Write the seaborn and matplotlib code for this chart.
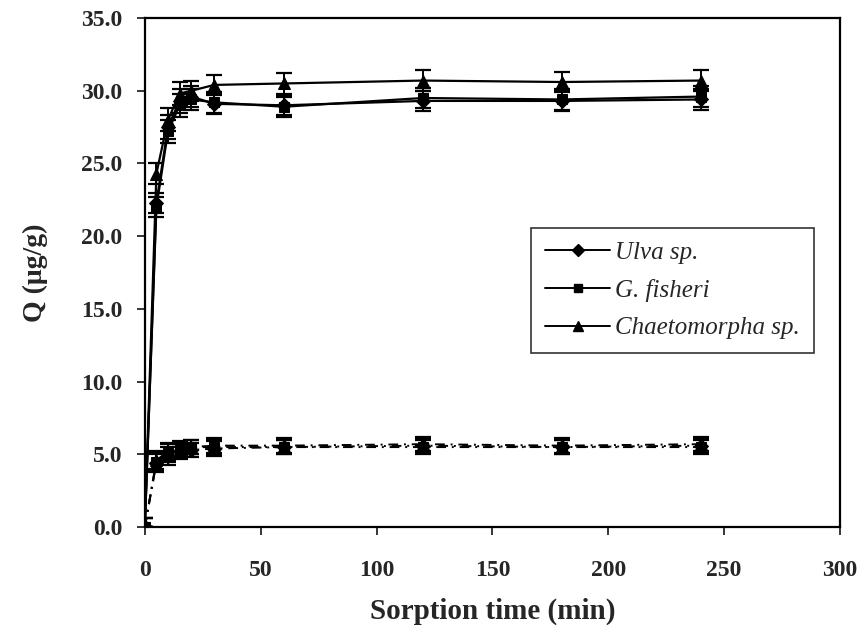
import matplotlib
matplotlib.use("Agg")
import matplotlib.pyplot as plt
import seaborn as sns
import pandas as pd
from matplotlib.lines import Line2D

sns.set_style("ticks")
plt.rcParams['font.family'] = ['Liberation Serif', 'DejaVu Serif']

time = [0, 5, 10, 15, 20, 30, 60, 120, 180, 240]
species = ["Ulva sp.", "G. fisheri", "Chaetomorpha sp."]
markers = ["D", "s", "^"]
msizes = [7, 7, 8]

q_ulva = [0.0, 22.3, 27.5, 29.3, 29.6, 29.1, 29.0, 29.3, 29.3, 29.4]
q_gfis = [0.0, 22.0, 27.2, 29.0, 29.4, 29.2, 28.9, 29.5, 29.4, 29.6]
q_chae = [0.0, 24.3, 28.0, 29.8, 30.0, 30.4, 30.5, 30.7, 30.6, 30.7]
err_top = [0.0, 0.7, 0.8, 0.8, 0.7, 0.7, 0.7, 0.7, 0.7, 0.7]

c_ulva = [0.0, 4.4, 4.9, 5.2, 5.3, 5.4, 5.5, 5.6, 5.5, 5.6]
c_gfis = [0.0, 4.5, 5.1, 5.3, 5.5, 5.5, 5.5, 5.5, 5.5, 5.5]
c_chae = [0.0, 4.6, 5.2, 5.4, 5.5, 5.6, 5.6, 5.7, 5.6, 5.7]
err_low = [0.6, 0.6, 0.6, 0.5, 0.5, 0.5, 0.5, 0.5, 0.5, 0.5]

tops = [q_ulva, q_gfis, q_chae]
lows = [c_ulva, c_gfis, c_chae]

fig = plt.figure(figsize=(8.62, 6.32), dpi=100)
ax = fig.add_axes([0.168, 0.166, 0.8065, 0.8055])

for name, vals, m, ms in zip(species, tops, markers, msizes):
    df = pd.DataFrame({"t": time, "q": vals})
    sns.lineplot(data=df, x="t", y="q", ax=ax, color="black", lw=1.6,
                 marker=m, markersize=ms, markeredgecolor="black", label=name)
    ax.errorbar(time, vals, yerr=err_top, fmt="none", ecolor="black",
                elinewidth=1.4, capsize=6, capthick=1.6)

for vals, m, ms in zip(lows, markers, msizes):
    df = pd.DataFrame({"t": time, "q": vals})
    sns.lineplot(data=df, x="t", y="q", ax=ax, color="black", lw=1.4,
                 linestyle=(0, (5, 3, 1, 3)), marker=m, markersize=ms,
                 markeredgecolor="black", legend=False)
    ax.errorbar(time, vals, yerr=err_low, fmt="none", ecolor="black",
                elinewidth=1.4, capsize=6, capthick=1.6)

ax.set_xlim(0, 300)
ax.set_ylim(0, 35)
ax.set_xticks(range(0, 301, 50))
ax.set_yticks([0, 5, 10, 15, 20, 25, 30, 35])
ax.set_yticklabels([f"{v:.1f}" for v in [0, 5, 10, 15, 20, 25, 30, 35]])
ax.tick_params(axis="both", direction="out", length=6, width=1.3, labelsize=17)
ax.tick_params(axis="x", pad=18)
ax.tick_params(axis="y", pad=10)
for lab in ax.get_xticklabels() + ax.get_yticklabels():
    lab.set_fontweight("bold")
for sp in ax.spines.values():
    sp.set_visible(True)
    sp.set_linewidth(1.6)
    sp.set_color("black")

ax.set_xlabel("Sorption time (min)", fontsize=21, fontweight="bold", labelpad=12)
ax.set_ylabel("Q (\u03bcg/g)", fontsize=20, fontweight="bold", labelpad=24)

handles = [Line2D([0], [0], color="black", lw=1.4, marker=m, markersize=ms - 1)
           for m, ms in zip(markers, msizes)]
leg = ax.legend(handles, species, loc="upper left", bbox_to_anchor=(0.538, 0.613),
                frameon=True, fancybox=False, edgecolor="black",
                prop={"family": "Liberation Serif", "style": "italic", "size": 18},
                handlelength=2.6, handletextpad=0.2, borderpad=0.55,
                labelspacing=0.6)
leg.get_frame().set_linewidth(1.2)

fig.savefig("out.png", dpi=100, facecolor="white")
